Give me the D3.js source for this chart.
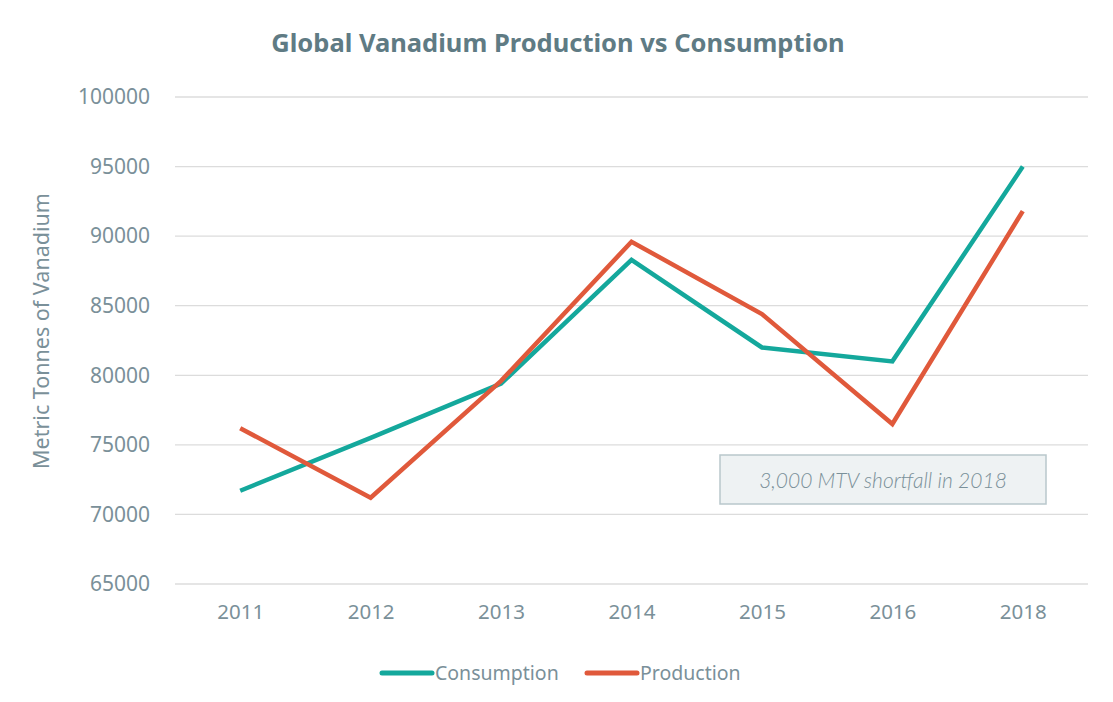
<!DOCTYPE html>
<html>
  <head>
    <style>
      html,
      body { margin: 0; background: #fff; }
      svg { display: block; }
      text { font-family: "Noto Sans", sans-serif; }
    </style>
    <script src="https://d3js.org/d3.v7.js"></script>
  </head>
  <body>
    <svg class="chart"></svg>

    <script>
      const width = 1113;
      const height = 702;

      // chart data
      const years = ['2011', '2012', '2013', '2014', '2015', '2016', '2018'];
      const consumption = [71700, 75500, 79400, 88300, 82000, 81000, 95000];
      const production = [76200, 71200, 79600, 89600, 84400, 76500, 91800];
      const yTicks = [65000, 70000, 75000, 80000, 85000, 90000, 95000, 100000];

      const textColor = '#7a9099';
      const teal = '#14a89c';
      const red = '#e0593b';

      const svg = d3.select('svg')
        .attr('width', width)
        .attr('height', height);

      const x = d3.scalePoint()
        .domain(years)
        .range([175, 1088])
        .padding(0.5);

      const y = d3.scaleLinear()
        .domain([65000, 100000])
        .range([584, 97]);

      // title
      svg.append('text')
        .attr('x', 558)
        .attr('y', 52)
        .attr('text-anchor', 'middle')
        .style('font-size', '25.5px')
        .style('font-weight', 'bold')
        .style('fill', '#5f7b84')
        .text('Global Vanadium Production vs Consumption');

      // grid lines
      svg.append('g')
        .selectAll('line')
        .data(yTicks)
        .join('line')
        .attr('x1', 175)
        .attr('x2', 1088)
        .attr('y1', (d) => y(d))
        .attr('y2', (d) => y(d))
        .style('stroke', '#dcdcdc')
        .style('stroke-width', 1.3);

      // y axis
      const yAxis = svg.append('g')
        .attr('transform', 'translate(150,0)')
        .call(d3.axisLeft(y).tickValues(yTicks).tickFormat(d3.format('d')).tickSize(0).tickPadding(0));
      yAxis.select('.domain').remove();
      yAxis.selectAll('text')
        .style('font-size', '21px')
        .style('font-family', '"Noto Sans", sans-serif')
        .style('fill', textColor);

      // x axis
      const xAxis = svg.append('g')
        .attr('transform', 'translate(0,604)')
        .call(d3.axisBottom(x).tickSize(0).tickPadding(0));
      xAxis.select('.domain').remove();
      xAxis.selectAll('text')
        .style('font-size', '20.5px')
        .style('font-family', '"Noto Sans", sans-serif')
        .style('fill', textColor);

      // y axis title
      svg.append('text')
        .attr('transform', 'translate(49,331) rotate(-90)')
        .attr('text-anchor', 'middle')
        .style('font-size', '21.5px')
        .style('fill', textColor)
        .text('Metric Tonnes of Vanadium');

      // annotation box
      svg.append('rect')
        .attr('x', 720)
        .attr('y', 455)
        .attr('width', 326)
        .attr('height', 49)
        .style('fill', '#eef2f3')
        .style('stroke', '#b9c7cc')
        .style('stroke-width', 1.5);

      svg.append('text')
        .attr('x', 883)
        .attr('y', 488)
        .attr('text-anchor', 'middle')
        .style('font-family', 'Lato, sans-serif')
        .style('font-style', 'italic')
        .style('font-weight', 300)
        .style('font-size', '21px')
        .style('fill', textColor)
        .text('3,000 MTV shortfall in 2018');

      // lines
      const line = d3.line()
        .x((d, i) => x(years[i]))
        .y((d) => y(d));

      const series = [
        { name: 'Consumption', values: consumption, color: teal },
        { name: 'Production', values: production, color: red },
      ];

      svg.append('g')
        .selectAll('path')
        .data(series)
        .join('path')
        .attr('d', (d) => line(d.values))
        .style('fill', 'none')
        .style('stroke', (d) => d.color)
        .style('stroke-width', 4.5)
        .style('stroke-linejoin', 'miter');

      // legend
      const legendX = [382, 587];
      const legend = svg.append('g')
        .selectAll('g')
        .data(series)
        .join('g')
        .attr('transform', (d, i) => `translate(${legendX[i]},673)`);

      legend.append('line')
        .attr('x1', 0)
        .attr('x2', 50)
        .style('stroke', (d) => d.color)
        .style('stroke-width', 5)
        .style('stroke-linecap', 'round');

      legend.append('text')
        .attr('x', 53)
        .attr('y', 7)
        .style('font-size', '19.5px')
        .style('fill', textColor)
        .text((d) => d.name);
    </script>
  </body>
</html>
